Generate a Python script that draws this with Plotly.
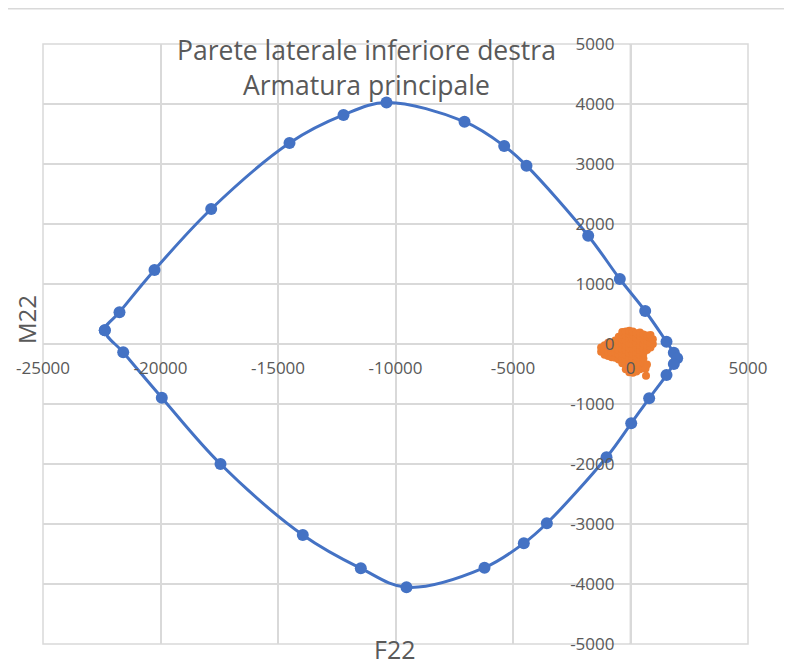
import plotly.graph_objects as go

# Interaction domain (blue, closed smooth curve)
dom_F22 = [-22370, -21745, -20255, -17843, -14510, -12213, -10383, -7064, -5374, -4426,
           -1800, -455, 625, 1532, 1843, 1986, 1843, 1532, 794, 30,
           -1021, -3560, -4540, -6213, -9532, -11476, -13945, -17447, -19945, -21587, -22370]
dom_M22 = [230, 530, 1233, 2250, 3350, 3817, 4025, 3705, 3300, 2972,
           1805, 1083, 550, 38, -145, -238, -333, -517, -905, -1322,
           -1888, -2988, -3322, -3728, -4055, -3739, -3183, -2000, -895, -139, 230]

# Load combinations (orange cluster)
load_F22 = [-1250, -1250,
            -1100, -1100, -1100,
            -950, -950, -950, -950,
            -800, -800, -800, -800,
            -650, -650, -650, -650, -650,
            -500, -500, -500, -500, -500, -500,
            -350, -350, -350, -350, -350, -350, -350, -350,
            -200, -200, -200, -200, -200, -200, -200, -200, -200,
            -50, -50, -50, -50, -50, -50, -50, -50, -50, -50,
            100, 100, 100, 100, 100, 100, 100, 100, 100, 100,
            250, 250, 250, 250, 250, 250, 250, 250, 250,
            400, 400, 400, 400, 400, 400, 400, 400, 400,
            550, 550, 550, 550, 550, 550, 550, 550,
            700, 700, 700, 700, 700,
            850, 850, 850, 850,
            950, 950,
            640, 660]
load_M22 = [-130, -60,
            -180, -100, -20,
            -200, -120, -40, 20,
            -220, -140, -60, 20,
            -230, -150, -70, 10, 60,
            -260, -180, -100, -20, 60, 120,
            -320, -240, -160, -80, 0, 80, 160, 200,
            -420, -340, -260, -180, -100, -20, 60, 140, 210,
            -470, -390, -310, -230, -150, -70, 10, 90, 170, 220,
            -480, -400, -320, -240, -160, -80, 0, 80, 160, 210,
            -460, -380, -300, -220, -140, -60, 20, 100, 180,
            -420, -340, -260, -180, -100, -20, 60, 140, 190,
            -400, -320, -240, -160, -80, 0, 80, 160,
            -340, -100, -20, 60, 140,
            -60, 20, 100, 150,
            0, 80,
            -410, -530]

# Tick values / labels
x_ticks = [-25000, -20000, -15000, -10000, -5000, 0, 5000]
x_tick_labels = ["-25000", "-20000", "-15000", "-10000", "-5000", "0", "5000"]
y_ticks = [-5000, -4000, -3000, -2000, -1000, 0, 1000, 2000, 3000, 4000, 5000]
y_tick_labels = ["-5000", "-4000", "-3000", "-2000", "-1000", "0",
                 "1000", "2000", "3000", "4000", "5000"]

text_color = "#595959"
grid_color = "#d9d9d9"
font_family = "Open Sans"

fig = go.Figure()
fig.add_trace(go.Scatter(
    x=dom_F22, y=dom_M22, mode="lines+markers",
    line=dict(color="#4472C4", width=3, shape="spline", smoothing=1.0),
    marker=dict(color="#4472C4", size=12),
    showlegend=False, hoverinfo="x+y"))
fig.add_trace(go.Scatter(
    x=load_F22, y=load_M22, mode="markers",
    marker=dict(color="#ED7D31", size=8),
    showlegend=False, hoverinfo="x+y"))

# The page body has an 8px default margin: figure pixel = screen pixel - 8
OFF = 8
W, H = 792 - OFF, 668 - OFF
L, T = 43 - OFF, 44 - OFF
R, B = 792 - 748, 668 - 644
pw, ph = W - L - R, H - T - B
x0_frac = (0 - (-25000)) / 30000  # paper position of F22 = 0
y0_frac = 0.5                      # paper position of M22 = 0


def px_x(sx):
    return (sx - OFF - L) / pw


def px_y(sy):
    return (H - B - (sy - OFF)) / ph


fig.update_layout(
    width=W, height=H,
    margin=dict(l=L, r=R, t=T, b=B, autoexpand=False),
    paper_bgcolor="white", plot_bgcolor="white",
    font=dict(family=font_family, color=text_color),
    xaxis=dict(range=[-25000, 5000], tickmode="array", tickvals=x_ticks, ticktext=x_tick_labels,
               showgrid=True, gridcolor=grid_color, gridwidth=1.5,
               zeroline=False, showline=False, automargin=False,
               anchor="free", position=y0_frac, side="bottom",
               ticks="", ticklabelstandoff=12,
               tickfont=dict(size=17, color=text_color, family=font_family)),
    yaxis=dict(range=[-5000, 5000], tickmode="array", tickvals=y_ticks, ticktext=y_tick_labels,
               showgrid=True, gridcolor=grid_color, gridwidth=1.5,
               zeroline=False, showline=False, automargin=False,
               anchor="free", position=x0_frac, side="left",
               ticks="", ticklabelstandoff=16,
               tickfont=dict(size=17, color=text_color, family=font_family)),
)

# Outer gridlines (plot frame)
fig.add_shape(type="rect", xref="paper", yref="paper", x0=0, x1=1, y0=0, y1=1,
              line=dict(color=grid_color, width=1.5), layer="below")

# Axis lines through origin (slightly darker)
fig.add_shape(type="line", xref="x", yref="paper", x0=0, x1=0, y0=0, y1=1,
              line=dict(color="#bfbfbf", width=1.5), layer="below")
fig.add_shape(type="line", xref="paper", yref="y", x0=0, x1=1, y0=0, y1=0,
              line=dict(color="#bfbfbf", width=1.5), layer="below")

# Chart area top border (at the very top of the figure)
fig.add_shape(type="line", xref="paper", yref="paper",
              x0=px_x(0), x1=px_x(800), y0=px_y(8.5), y1=px_y(8.5),
              line=dict(color="#d9d9d9", width=2))

title_x = px_x(366)
fig.add_annotation(text="Parete laterale inferiore destra", xref="paper", yref="paper",
                   x=title_x, y=px_y(50), showarrow=False,
                   xanchor="center", yanchor="middle",
                   font=dict(size=26.5, color=text_color, family=font_family))
fig.add_annotation(text="Armatura principale", xref="paper", yref="paper",
                   x=title_x, y=px_y(85), showarrow=False,
                   xanchor="center", yanchor="middle",
                   font=dict(size=26.5, color=text_color, family=font_family))

# Axis titles
fig.add_annotation(text="F22", xref="paper", yref="paper",
                   x=px_x(395), y=px_y(668), showarrow=False,
                   xanchor="center", yanchor="bottom",
                   font=dict(size=25, color=text_color, family=font_family))
fig.add_annotation(text="M22", xref="paper", yref="paper",
                   x=px_x(26), y=px_y(320), showarrow=False,
                   xanchor="center", yanchor="middle", textangle=-90,
                   font=dict(size=24, color=text_color, family=font_family))

fig.write_html("out.html")
